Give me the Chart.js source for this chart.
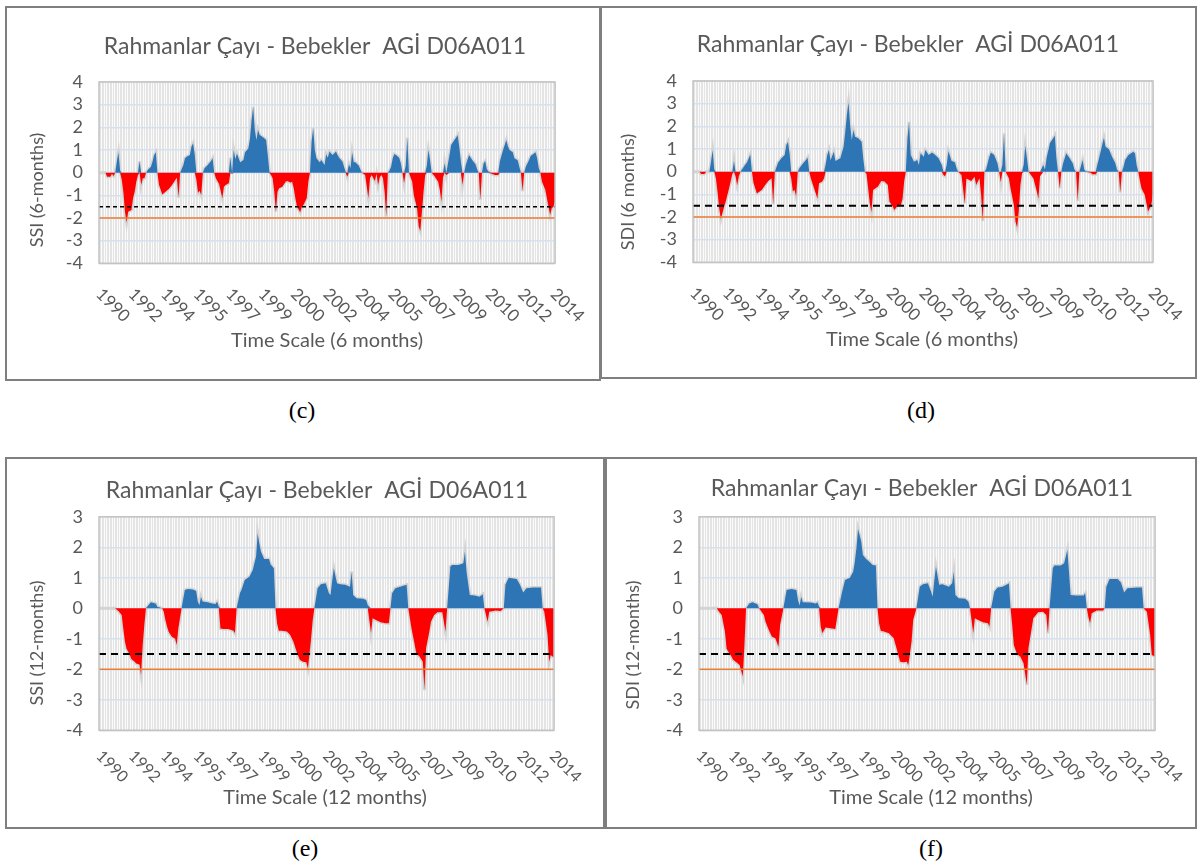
<!DOCTYPE html>
<html><head><meta charset="utf-8">
<script src="https://cdn.jsdelivr.net/npm/chart.js@4.4.1/dist/chart.umd.min.js"></script>
<style>
body{margin:0;background:#fff;width:1197px;height:866px;position:relative;overflow:hidden}
.frame{position:absolute;border:2px solid #7f7f7f;box-sizing:border-box;background:#fff}
.frame canvas{position:absolute;left:0;top:0}
.cap{position:absolute;font-family:"Liberation Serif";font-size:24px;color:#000;transform:translate(-50%,-50%);white-space:nowrap}
</style></head><body>
<script>
// ---- data (month index from Oct 1990) ----
const tickLabels = ['1990','1992','1994','1995','1997','1999','2000','2002','2004','2005','2007','2009','2010','2012','2014'];
const tickMonths = [0,20,40,60,80,100,120,140,160,180,200,220,240,260,280];
const lastMonth = 281;
const moderateDrought = -1.5;
const severeDrought = -2;

const ssi6Months = [0,4,5,7,8,9,10,11,12,13,14,15,16,17,18,20,21,22,23,24,25,26,27,28,29,30,32,33,34,35,36,37,39,41,43,45,47,48,49,50,52,53,54,56,57,58,59,60,61,62,63,64,65,67,69,70,71,72,74,76,77,78,80,81,82,83,84,85,87,89,90,92,93,94,95,96,97,98,99,100,102,103,104,105,106,107,108,109,110,111,113,115,116,118,119,120,121,122,124,125,126,128,129,130,131,132,133,134,136,137,139,140,141,142,143,144,146,147,148,150,151,152,153,154,155,156,157,158,160,161,162,163,164,166,167,168,170,171,172,173,174,175,176,177,178,179,180,181,182,183,185,186,187,188,189,190,191,193,194,196,197,198,199,200,201,202,203,204,205,207,209,210,211,212,213,214,216,217,219,220,221,222,223,224,225,226,227,228,230,232,233,234,235,236,237,238,239,240,242,244,246,247,249,251,252,253,255,256,258,259,260,261,262,263,265,266,268,269,270,271,272,273,275,276,277,278,279,280,281];
const ssi6Values = [0,0,-0.18,-0.18,-0.05,-0.15,0,0.5,0.9,0.1,-0.3,-0.84,-1.72,-2.2,-1.72,-1.65,-1.13,-0.84,-0.4,-0.1,0.5,-0.55,-0.25,-0.25,0,0.12,0.26,0.49,0.78,0.9,0,-0.54,-0.96,-0.84,-0.72,-0.54,-0.32,-0.22,-1.1,0,0.34,0.63,0.7,0.78,1.15,1.3,0.8,-0.3,-0.9,-0.8,-1.0,0,0.19,0.34,0.51,0.63,0,-0.25,-0.5,-1.13,-0.62,-0.54,-0.47,0.66,-0.05,1.0,0.6,0.84,0.46,0.56,0.9,1.07,1.5,2.3,2.9,1.9,1.44,1.88,1.66,1.62,1.51,1.44,0.78,0.04,-0.1,-0.25,-0.84,-1.72,-0.84,-0.69,-0.62,-0.4,-0.37,-0.43,-0.4,-0.69,-1.13,-1.5,-1.75,-1.5,-1.43,-1.13,-0.4,0,1.37,1.96,1.0,0.63,0.46,0.56,0.34,0.81,0.66,0.93,0.85,0.78,0.93,0.78,0.66,0.49,0.26,0.04,-0.18,0.37,0.2,0.9,0.46,0.46,0.31,0.16,0,-0.05,-0.1,-1.13,-0.25,-0.1,-0.37,-0.05,-0.54,-0.2,-0.1,-0.25,-0.84,-1.94,0,0.1,0.26,0.63,0.82,0.78,0.66,0.41,0,-0.47,0.3,1.55,0,-0.4,-1.0,-1.57,-2.38,-2.57,-1.72,-0.84,-0.1,0.3,1.0,0.56,0,-0.18,-0.4,-0.76,-1.28,-0.2,0.41,-0.1,0.78,1.22,1.44,1.54,1.66,1.15,0.49,-0.54,0,0.34,0.56,0.78,0.56,0.37,0.15,0,-1.2,0,0.41,0.51,0.15,0.05,-0.05,-0.1,-0.1,0.49,1.0,1.44,1.15,1.0,0.9,0.63,0.55,0.26,0,-0.81,0,0.26,0.56,0.74,0.84,0.9,0.63,0.2,0,-0.4,-0.76,-1.13,-1.5,-1.87,-1.57,-1.5,-1.28];

const sdi6Months = [0,4,5,7,8,10,11,12,13,14,15,16,17,19,20,22,23,24,25,26,27,28,29,31,33,35,36,37,39,42,44,46,48,49,50,52,54,56,57,58,59,60,61,62,63,64,65,67,69,70,71,72,75,76,77,79,80,81,82,83,84,86,87,90,92,93,94,95,96,97,98,99,101,103,104,105,106,107,108,109,110,113,115,117,119,120,122,123,125,127,128,129,130,131,132,133,135,137,138,139,141,142,144,146,148,150,152,153,154,155,156,158,160,161,162,164,166,167,170,172,173,175,176,177,178,179,181,182,184,186,187,188,189,190,191,193,194,196,197,198,199,200,201,202,203,204,205,208,210,211,212,214,215,216,218,220,221,222,223,224,225,226,228,230,232,233,234,235,236,238,239,240,243,244,246,247,249,250,251,252,254,256,258,259,260,261,262,263,264,266,269,270,271,272,273,274,276,277,278,280,281];
const sdi6Values = [0,0,-0.1,-0.1,0,0,0.44,0.95,0.1,-0.3,-0.9,-1.62,-2.1,-1.55,-1.32,-0.74,-0.44,-0.1,0.47,-0.2,-0.6,-0.2,0,0.22,0.41,0.76,0,-0.5,-0.96,-0.81,-0.6,-0.41,-0.29,-1.44,0,0.4,0.59,0.74,1.18,1.32,0.8,-0.3,-0.88,-0.8,-1.1,0,0.15,0.35,0.51,0.62,0,-0.3,-0.96,-1.18,-0.51,-0.44,-0.3,0.3,0.74,0.96,0.5,0.88,0.47,0.59,1.1,1.76,2.5,3.06,2.06,1.4,1.84,1.54,1.47,1.32,0.59,0,-0.1,-0.74,-1.4,-1.79,-0.81,-0.66,-0.41,-0.44,-0.59,-1.32,-1.54,-1.69,-1.5,-1.47,-1.2,-0.44,0,1.47,2.2,0.74,0.44,0.51,0.29,0.81,0.66,0.96,0.74,0.85,0.74,0.59,0.29,-0.15,-0.2,0.32,0.9,0.47,0.41,0.15,0,-0.15,-1.4,-0.3,-0.41,-0.22,-0.59,-0.29,-1.03,-2.18,0,0.1,0.66,0.85,0.74,0.37,0,-0.47,0.3,1.69,0,-0.3,-0.74,-1.47,-2.2,-2.47,-1.76,-0.59,-0.07,0.3,1.15,0.59,0,-0.3,-0.88,-1.2,-0.2,0.29,0.1,0.6,1.25,1.47,1.59,0.59,0,-0.74,0,0.35,0.81,0.6,0.37,0.1,0,-1.29,0,0.51,0.1,0.02,-0.05,-0.12,-0.12,0.3,0.88,1.2,1.5,1.1,1.0,0.66,0.37,0.1,0,-0.91,0,0.2,0.51,0.74,0.88,0.8,0.29,0,-0.4,-0.74,-1.03,-1.4,-1.76,-1.47,-0.96];

const ssi12Months = [0,10,11,12,14,15,16,17,18,19,20,22,23,25,26,27,28,29,31,32,35,36,39,40,41,42,43,45,47,48,49,50,51,53,55,58,60,61,62,63,64,67,70,72,73,74,75,77,80,83,84,85,87,88,90,93,95,97,98,99,100,102,105,106,108,109,110,111,113,116,118,120,122,124,126,128,129,131,132,133,135,137,140,142,143,144,145,147,149,152,155,156,157,159,163,165,166,168,169,171,174,177,179,180,181,183,186,190,191,193,195,196,198,200,201,202,204,205,207,209,212,214,215,217,218,222,225,226,227,229,232,235,237,238,240,241,245,248,250,251,253,258,260,262,264,268,273,274,275,277,278,279,280,281];
const ssi12Values = [0,0,-0.05,-0.09,-0.22,-0.66,-1.09,-1.33,-1.42,-1.53,-1.66,-1.75,-1.81,-1.84,-2.19,-1.2,-0.55,0,0.13,0.2,0.16,0.05,0,-0.11,-0.38,-0.6,-0.77,-0.93,-1.0,-1.2,-0.66,-0.33,0,0.6,0.63,0.62,0.57,0.22,0.1,0.38,0.22,0.2,0.16,0.14,0.22,0.05,-0.66,-0.68,-0.68,-0.74,-0.82,0,0.49,0.6,0.93,1.04,1.26,1.7,2.46,2.13,1.86,1.62,1.62,1.44,1.31,0,-0.5,-0.74,-0.74,-0.76,-0.87,-1.09,-1.42,-1.69,-1.75,-1.77,-1.97,-1.0,-0.38,0,0.66,0.79,0.82,0.49,0.44,0.9,1.31,0.82,0.79,0.77,0.71,1.2,0.44,0.33,0.31,0.27,0.1,-0.82,-0.33,-0.38,-0.46,-0.49,-0.49,0,0.49,0.66,0.71,0.77,0,-0.66,-1.2,-1.48,-1.58,-1.75,-2.68,-1.31,-0.77,-0.44,-0.22,-0.13,-0.13,-0.77,0,1.37,1.42,1.42,1.48,1.86,1.2,0.44,0.42,0.38,0.46,0,-0.44,-0.11,-0.07,-0.09,0,0.77,1.0,0.96,0.77,0.52,0.66,0.68,0.68,0,-0.11,-0.87,-1.75,-1.53,-1.58,-1.6];

const sdi12Months = [0,11,12,14,16,17,18,20,21,23,25,27,28,29,31,33,36,37,40,41,43,45,47,49,50,52,54,57,60,61,62,63,64,69,72,73,74,75,76,78,82,84,86,88,90,93,95,96,97,98,100,101,103,105,107,109,110,111,112,114,117,120,122,124,126,128,129,131,132,134,136,138,141,143,144,145,146,148,150,154,156,157,158,160,164,166,167,169,170,172,175,178,179,180,182,184,187,190,191,192,193,194,196,198,200,202,203,205,206,209,212,214,215,216,218,219,223,225,227,228,229,232,237,238,239,240,241,242,245,249,250,251,253,258,260,262,264,270,273,274,276,278,279,281];
const sdi12Values = [0,0,-0.09,-0.22,-0.77,-1.33,-1.42,-1.58,-1.69,-1.77,-1.86,-2.24,-1.2,0,0.16,0.2,0.13,0,-0.22,-0.44,-0.71,-0.93,-0.98,-1.26,-0.55,0,0.6,0.63,0.6,0.27,0.09,0.38,0.2,0.19,0.16,0.2,0.05,-0.6,-0.82,-0.63,-0.66,-0.68,0,0.49,0.93,1.0,1.2,1.53,1.97,2.6,2.19,1.75,1.62,1.53,1.42,1.4,0,-0.5,-0.74,-0.76,-0.82,-0.98,-1.37,-1.75,-1.77,-1.75,-1.86,-1.09,-0.38,0,0.71,0.79,0.82,0.55,0.38,0.9,1.37,0.77,0.79,0.71,0.82,1.2,0.44,0.33,0.31,0.22,0,-0.82,-0.33,-0.38,-0.46,-0.49,-0.6,0,0.55,0.68,0.71,0.79,0.82,0,-0.55,-1.2,-1.51,-1.58,-1.8,-2.51,-1.31,-0.66,-0.33,-0.13,-0.11,-0.22,-0.82,0,1.31,1.4,1.4,1.48,1.91,1.2,0.44,0.42,0.42,0.49,0,-0.3,-0.49,-0.16,-0.07,-0.07,0,0.71,0.96,0.96,0.85,0.52,0.66,0.68,0.68,0,-0.11,-0.87,-1.53,-1.58];

// ---- layout / style specs ----
const specs = [
  {frame:[5,6,596,375], plot:[99,82,555,263.3], yMin:-4, yMax:4, months:ssi6Months, values:ssi6Values,
   yTitle:'SSI (6-months)', xTitle:'Time Scale (6 months)', titlePos:[315,47], yTitlePos:[37,190], xTitlePos:[327,341],
   labelDy:28, labelSize:17, dash:[4,3], dashW:1.5, caption:'(c)', capPos:[302,410]},
  {frame:[600,6,597,373], plot:[693,81,1153,262.3], yMin:-4, yMax:4, months:sdi6Months, values:sdi6Values,
   yTitle:'SDI (6 months)', xTitle:'Time Scale (6 months)', titlePos:[908,45], yTitlePos:[628,192], xTitlePos:[922,340],
   labelDy:28, labelSize:17, dash:[7,5], dashW:2, caption:'(d)', capPos:[921,410]},
  {frame:[5,457,600,372], plot:[99,516.8,554,730.3], yMin:-4, yMax:3, months:ssi12Months, values:ssi12Values,
   yTitle:'SSI (12-months)', xTitle:'Time Scale (12 months)', titlePos:[317,491], yTitlePos:[37,643], xTitlePos:[325,798],
   labelDy:23, labelSize:16, dash:[7,5], dashW:2, caption:'(e)', capPos:[305,848]},
  {frame:[605,457,592,372], plot:[699,516.8,1155,730.3], yMin:-4, yMax:3, months:sdi12Months, values:sdi12Values,
   yTitle:'SDI (12-months)', xTitle:'Time Scale (12 months)', titlePos:[922,489], yTitlePos:[633,645], xTitlePos:[931,798],
   labelDy:23, labelSize:16, dash:[7,5], dashW:2, caption:'(f)', capPos:[931,848]}
];
const chartTitle = 'Rahmanlar Çayı - Bebekler  AGİ D06A011';
const gridMonths = [];
for (let m = 0; m <= lastMonth; m++) gridMonths.push(m);

const decor = {
  id: 'decor',
  beforeDraw(chart, args, o) {
    const {ctx, chartArea: a} = chart;
    ctx.save(); ctx.fillStyle = '#fbfbfb'; ctx.fillRect(a.left, a.top, a.width, a.height); ctx.restore();
  },
  afterDraw(chart, args, o) {
    const {ctx, chartArea: a} = chart;
    const xs = chart.scales.x;
    ctx.save();
    ctx.strokeStyle = '#c3c3c3'; ctx.lineWidth = 1.5;
    ctx.strokeRect(a.left, a.top, a.width, a.height);
    ctx.fillStyle = '#595959';
    ctx.textAlign = 'center'; ctx.textBaseline = 'middle';
    ctx.font = '23px Lato';
    ctx.fillText(chartTitle, o.titlePos[0] - o.ox, o.titlePos[1] - o.oy);
    ctx.font = '20px Lato';
    ctx.fillText(o.xTitle, o.xTitlePos[0] - o.ox, o.xTitlePos[1] - o.oy);
    ctx.save();
    ctx.translate(o.yTitlePos[0] - o.ox, o.yTitlePos[1] - o.oy);
    ctx.rotate(-Math.PI / 2);
    ctx.font = '18px Lato';
    ctx.fillText(o.yTitle, 0, 0);
    ctx.restore();
    ctx.font = o.labelSize + 'px Lato';
    ctx.textAlign = 'left';
    tickMonths.forEach((m, i) => {
      const x = xs.getPixelForValue(m);
      ctx.save();
      ctx.translate(x, a.bottom + o.labelDy);
      ctx.rotate(Math.PI / 4);
      ctx.fillText(tickLabels[i], 0, 0);
      ctx.restore();
    });
    ctx.restore();
  }
};

specs.forEach(spec => {
  const [fl, ft, fw, fh] = spec.frame;
  const frame = document.createElement('div');
  frame.className = 'frame';
  Object.assign(frame.style, {left: fl + 'px', top: ft + 'px', width: fw + 'px', height: fh + 'px'});
  const cw = fw - 4, ch = fh - 4;
  const cv = document.createElement('canvas');
  cv.width = cw; cv.height = ch;
  cv.style.width = cw + 'px'; cv.style.height = ch + 'px';
  frame.appendChild(cv);
  document.body.appendChild(frame);
  const cap = document.createElement('div');
  cap.className = 'cap'; cap.textContent = spec.caption;
  cap.style.left = spec.capPos[0] + 'px'; cap.style.top = spec.capPos[1] + 'px';
  document.body.appendChild(cap);

  const ox = fl + 2, oy = ft + 2;
  const [pl, pt, pr, pb] = spec.plot;
  const yAxisWidth = pl - ox;
  const padTop = pt - oy, padRight = (ox + cw) - pr, padBottom = (oy + ch) - pb;
  const pts = f => spec.months.map((m, i) => ({x: m, y: f(spec.values[i])}));
  const span = t => [{x: spec.months[0], y: t}, {x: spec.months[spec.months.length - 1], y: t}];

  new Chart(cv, {
    type: 'line',
    data: {datasets: [
      {label: 'moderate', data: span(moderateDrought), borderColor: '#000', borderWidth: spec.dashW, borderDash: spec.dash, pointRadius: 0, fill: false, order: 0},
      {label: 'severe', data: span(severeDrought), borderColor: '#ED7D31', borderWidth: 1.5, pointRadius: 0, fill: false, order: 1},
      {label: 'wet', data: pts(v => Math.max(v, 0)), borderColor: 'rgba(0,0,0,0)', borderWidth: 0, backgroundColor: '#2E75B6', fill: 'origin', pointRadius: 0, order: 2},
      {label: 'dry', data: pts(v => Math.min(v, 0)), borderColor: 'rgba(0,0,0,0)', borderWidth: 0, backgroundColor: '#FF0000', fill: 'origin', pointRadius: 0, order: 2},
      {label: 'index', data: pts(v => v), borderColor: '#d4d4d4', borderWidth: 3, pointRadius: 0, fill: false, order: 3}
    ]},
    options: {
      responsive: false, animation: false, devicePixelRatio: 1,
      layout: {padding: {left: 0, top: padTop, right: padRight, bottom: padBottom}},
      plugins: {legend: {display: false}, tooltip: {enabled: false}, title: {display: false},
        decor: {ox, oy, titlePos: spec.titlePos, xTitle: spec.xTitle, xTitlePos: spec.xTitlePos,
                yTitle: spec.yTitle, yTitlePos: spec.yTitlePos, labelDy: spec.labelDy, labelSize: spec.labelSize}},
      scales: {
        x: {type: 'linear', min: 0, max: lastMonth,
            afterBuildTicks(s) { s.ticks = gridMonths.map(v => ({value: v})); },
            afterFit(s) { s.height = 0; },
            ticks: {display: false}, grid: {color: '#e4e4e4', lineWidth: 1, drawTicks: false}, border: {display: false}},
        y: {min: spec.yMin, max: spec.yMax,
            afterFit(s) { s.width = yAxisWidth; },
            ticks: {stepSize: 1, autoSkip: false, padding: 16, color: '#595959', font: {family: 'Lato', size: 18}},
            grid: {color: '#d5e1ee', lineWidth: 1.5, drawTicks: false}, border: {display: false}}
      }
    },
    plugins: [decor]
  });
});
</script>
</body></html>
